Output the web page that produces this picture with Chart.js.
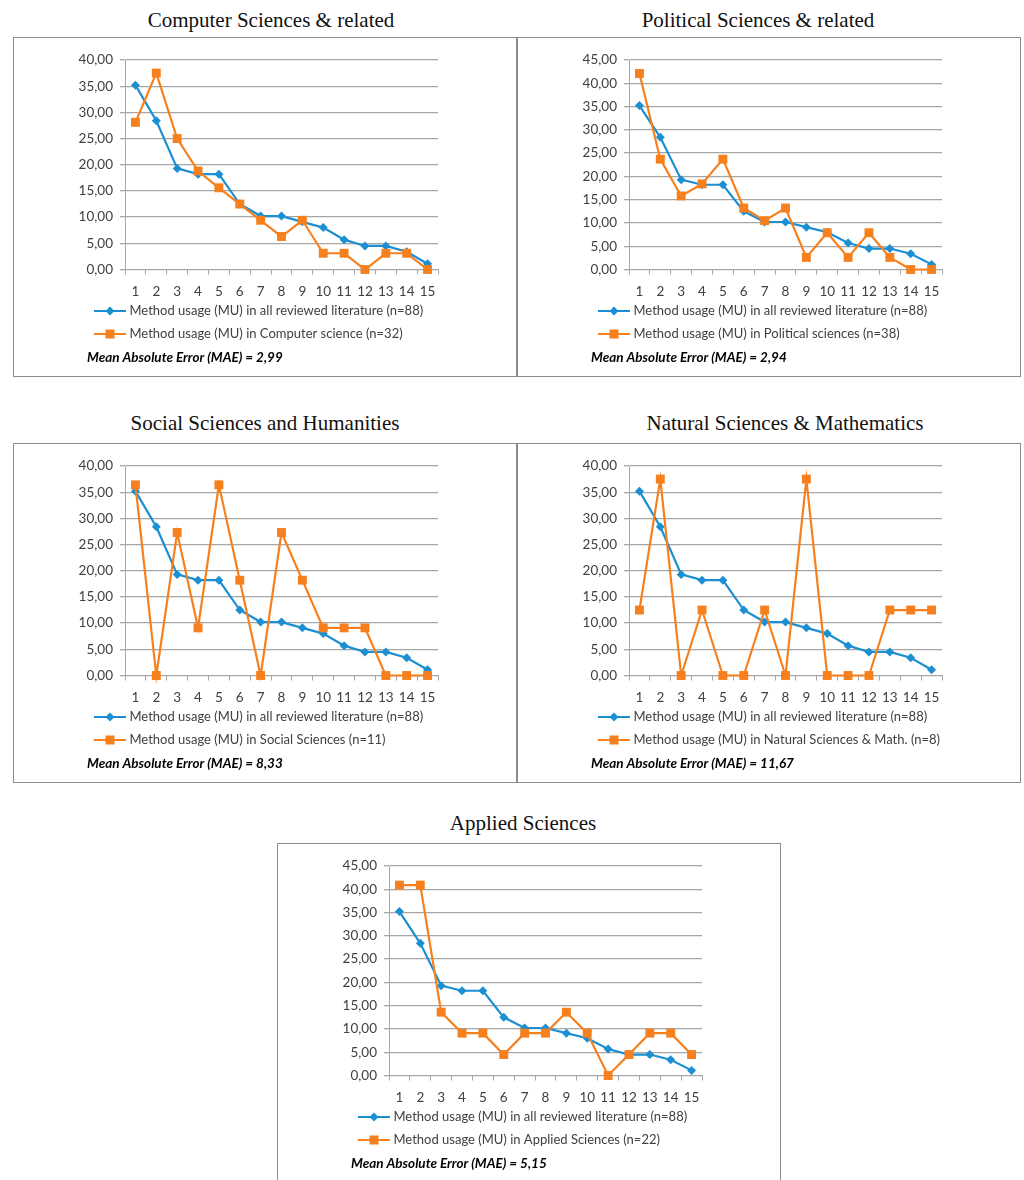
<!DOCTYPE html>
<html>
<head>
<meta charset="utf-8">
<script src="https://cdn.jsdelivr.net/npm/chart.js@4.4.1/dist/chart.umd.min.js"></script>
<style>
  body { margin: 0; background: #fff; }
  #page { position: relative; width: 1024px; height: 1180px; overflow: hidden; }
  .title { position: absolute; width: 400px; text-align: center; font-family: "Liberation Serif", serif; font-size: 21px; color: #111; line-height: 24px; }
  .frame { position: absolute; box-sizing: border-box; border: 1px solid #8c8c8c; width: 504px; height: 340px; }
  canvas { position: absolute; }
</style>
</head>
<body>
<div id="page"></div>
<script>
// methods ranked 1..15
var methods = ['1','2','3','4','5','6','7','8','9','10','11','12','13','14','15'];

// method usage (%) in all reviewed literature (n=88)
var allLiterature = [35.2, 28.4, 19.3, 18.2, 18.2, 12.5, 10.2, 10.2, 9.1, 8.0, 5.7, 4.5, 4.5, 3.4, 1.1];

// method usage (%) per field
var computerScience = [28.1, 37.5, 25.0, 18.8, 15.6, 12.5, 9.4, 6.3, 9.4, 3.1, 3.1, 0.0, 3.1, 3.1, 0.0];
var politicalSciences = [42.1, 23.7, 15.8, 18.4, 23.7, 13.2, 10.5, 13.2, 2.6, 7.9, 2.6, 7.9, 2.6, 0.0, 0.0];
var socialSciences = [36.4, 0.0, 27.3, 9.1, 36.4, 18.2, 0.0, 27.3, 18.2, 9.1, 9.1, 9.1, 0.0, 0.0, 0.0];
var naturalSciences = [12.5, 37.5, 0.0, 12.5, 0.0, 0.0, 12.5, 0.0, 37.5, 0.0, 0.0, 0.0, 12.5, 12.5, 12.5];
var appliedSciences = [40.9, 40.9, 13.6, 9.1, 9.1, 4.5, 9.1, 9.1, 13.6, 9.1, 0.0, 4.5, 9.1, 9.1, 4.5];

var panelTitles = ['Computer Sciences & related', 'Political Sciences & related', 'Social Sciences and Humanities', 'Natural Sciences & Mathematics', 'Applied Sciences'];
var fieldLabels = [
    'Method usage (MU) in Computer science (n=32)',
    'Method usage (MU) in Political sciences (n=38)',
    'Method usage (MU) in Social Sciences (n=11)',
    'Method usage (MU) in Natural Sciences & Math. (n=8)',
    'Method usage (MU) in Applied Sciences (n=22)'
];
var maeLabels = ['2,99', '2,94', '8,33', '11,67', '5,15'];
var yMaxes = [40, 45, 40, 40, 45];
var fieldSeries = [computerScience, politicalSciences, socialSciences, naturalSciences, appliedSciences];

// where each panel sits on the page
var panels = [
    {left: 13, top: 37, titleTop: 8, titleX: 271},
    {left: 517, top: 37, titleTop: 8, titleX: 758},
    {left: 13, top: 443, titleTop: 411, titleX: 265},
    {left: 517, top: 443, titleTop: 411, titleX: 785},
    {left: 277, top: 843, titleTop: 811, titleX: 523}
];

var BLUE = '#1b8fd2';
var ORANGE = '#f7801e';
var GRID = '#a6a6a6';

Chart.defaults.font.family = 'Lato, "Liberation Sans", sans-serif';
Chart.defaults.color = '#404040';

// tick labels hang outside the fixed-size axis boxes, so don't clip them
var noLabelClip = {
    id: 'noLabelClip',
    afterLayout: function (chart) {
        chart.scales.x._computeLabelArea = function () { return undefined; };
        chart.scales.y._computeLabelArea = function () { return undefined; };
    }
};

// legend sample: line with the marker in the middle
function legendIcon(color, shape) {
    var c = document.createElement('canvas');
    c.width = 32; c.height = 12;
    var g = c.getContext('2d');
    g.strokeStyle = color;
    g.lineWidth = 2;
    g.beginPath(); g.moveTo(0, 6); g.lineTo(32, 6); g.stroke();
    g.fillStyle = color;
    if (shape == 'rect') {
        g.fillRect(11.5, 1.5, 9, 9);
    } else {
        g.beginPath(); g.moveTo(16, 1.5); g.lineTo(20.5, 6); g.lineTo(16, 10.5); g.lineTo(11.5, 6); g.closePath(); g.fill();
    }
    return c;
}
var icons = [legendIcon(BLUE, 'diamond'), legendIcon(ORANGE, 'rect')];

var page = document.getElementById('page');

panels.forEach(function (p, i) {
    var t = document.createElement('div');
    t.className = 'title';
    t.style.left = (p.titleX - 200) + 'px';
    t.style.top = p.titleTop + 'px';
    t.textContent = panelTitles[i];
    page.appendChild(t);

    var f = document.createElement('div');
    f.className = 'frame';
    f.style.left = p.left + 'px';
    f.style.top = p.top + 'px';
    page.appendChild(f);

    var cv = document.createElement('canvas');
    cv.width = 504; cv.height = 340;
    cv.style.left = p.left + 'px';
    cv.style.top = p.top + 'px';
    page.appendChild(cv);

    new Chart(cv.getContext('2d'), {
        type: 'line',
        data: {
            labels: methods,
            datasets: [
                {
                    label: 'Method usage (MU) in all reviewed literature (n=88)',
                    data: allLiterature,
                    borderColor: BLUE,
                    backgroundColor: BLUE,
                    borderWidth: 2.2,
                    pointStyle: 'rectRot',
                    pointRadius: 4.5,
                    pointBorderWidth: 0,
                    tension: 0,
                    clip: false,
                    order: 2
                },
                {
                    label: fieldLabels[i],
                    data: fieldSeries[i],
                    borderColor: ORANGE,
                    backgroundColor: ORANGE,
                    borderWidth: 2.2,
                    pointStyle: 'rect',
                    pointRadius: 6.3,
                    pointBorderWidth: 0,
                    tension: 0,
                    clip: false,
                    order: 1
                }
            ]
        },
        plugins: [noLabelClip],
        options: {
            responsive: false,
            animation: false,
            devicePixelRatio: 1,
            layout: {padding: {left: 74, right: 79, top: 23, bottom: 13}},
            scales: {
                x: {
                    type: 'category',
                    offset: true,
                    grid: {offset: true, drawOnChartArea: false, drawTicks: true, tickLength: 5, color: GRID},
                    border: {display: true, color: GRID, width: 1},
                    ticks: {padding: 9, font: {size: 13.5}, color: '#404040', maxRotation: 0, autoSkip: false},
                    afterFit: function (scale) { scale.height = 25; }
                },
                y: {
                    min: 0,
                    max: yMaxes[i],
                    grid: {color: GRID, lineWidth: 1.3, drawTicks: true, tickLength: 5},
                    border: {display: true, color: GRID, width: 1},
                    ticks: {
                        stepSize: 5,
                        padding: 7,
                        font: {size: 13.5},
                        color: '#404040',
                        callback: function (v) { return v.toFixed(2).replace('.', ','); }
                    },
                    afterFit: function (scale) { scale.width = 38; }
                }
            },
            plugins: {
                tooltip: {enabled: false},
                legend: {
                    position: 'bottom',
                    align: 'start',
                    labels: {
                        usePointStyle: true,
                        pointStyleWidth: 26,
                        boxHeight: 12,
                        padding: 10,
                        font: {size: 13},
                        color: '#404040',
                        generateLabels: function (chart) {
                            return chart.data.datasets.map(function (ds, k) {
                                return {text: ds.label, pointStyle: icons[k], fillStyle: ds.borderColor,
                                    strokeStyle: ds.borderColor, lineWidth: 0, hidden: false, datasetIndex: k, fontColor: '#404040'};
                            });
                        }
                    }
                },
                subtitle: {
                    display: true,
                    position: 'bottom',
                    align: 'start',
                    text: 'Mean Absolute Error (MAE) = ' + maeLabels[i],
                    color: '#000',
                    font: {size: 13.5, weight: 'bold', style: 'italic', lineHeight: 1.0},
                    padding: {top: 0, bottom: 0}
                }
            }
        }
    });
});
</script>
</body>
</html>
